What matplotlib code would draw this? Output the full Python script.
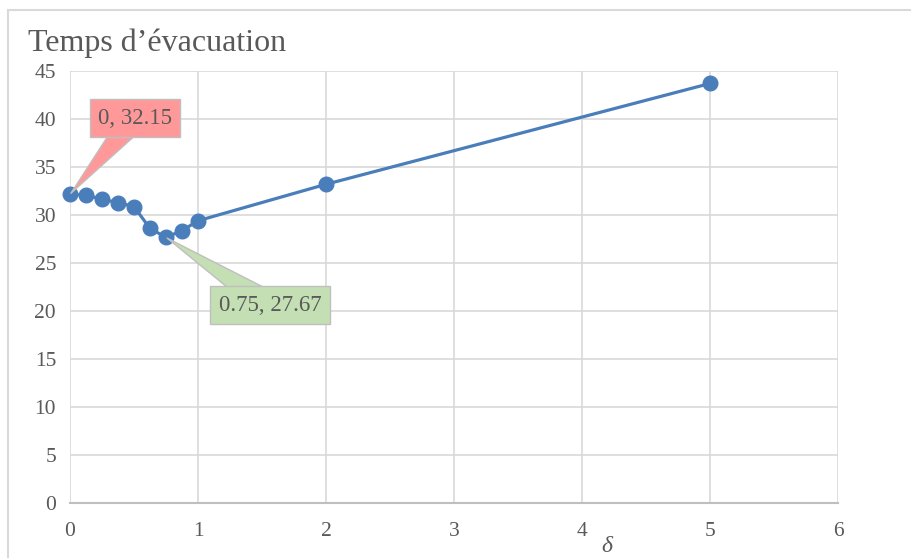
import matplotlib.pyplot as plt
from matplotlib.patches import Rectangle

# data
delta = [0, 0.125, 0.25, 0.375, 0.5, 0.625, 0.75, 0.875, 1, 2, 5]
temps = [32.15, 32.08, 31.63, 31.3, 30.87, 28.6, 27.67, 28.37, 29.4, 33.2, 43.7]
x_ticks = [0, 1, 2, 3, 4, 5, 6]
y_ticks = [0, 5, 10, 15, 20, 25, 30, 35, 40, 45]

BLUE = "#4a7ebb"
GRID = "#d9d9d9"
TEXT = "#595959"


def callout(ax, i, xytext, face):
    # wedge starts at the box centre, the box drawn over it hides the base
    ax.annotate(f"{delta[i]:g}, {temps[i]:.2f}",
                xy=(delta[i], temps[i]), xytext=xytext,
                ha="center", va="center", fontsize=16.5, color=TEXT,
                bbox=dict(boxstyle="square,pad=0.36", fc=face, ec="#bfbfbf"),
                arrowprops=dict(arrowstyle="wedge,tail_width=1.15", fc=face,
                                ec="#bfbfbf", patchA=None, shrinkA=0, shrinkB=1),
                zorder=4)


def main():
    plt.rcParams["font.family"] = ["Liberation Serif", "DejaVu Serif"]

    fig = plt.figure(figsize=(9.12, 5.58), dpi=100)
    ax = fig.add_axes([70 / 912, 1 - 503 / 558, 768 / 912, 432 / 558])

    # outer chart border (only top and left visible in the crop)
    fig.patches.append(Rectangle((8 / 912, -0.1), 1.2, 1 - 10 / 558 + 0.1,
                                 transform=fig.transFigure, fill=False,
                                 edgecolor=GRID, linewidth=1.5))

    ax.plot(delta, temps, color=BLUE, linewidth=2.3, marker="o",
            markersize=10.5, zorder=3, clip_on=False)

    ax.set_xlim(0, 6)
    ax.set_ylim(0, 45)
    ax.set_xticks(x_ticks)
    ax.set_yticks(y_ticks)
    ax.grid(True, color=GRID, linewidth=1.2)
    ax.set_axisbelow(True)
    for side in ["top", "right", "left"]:
        ax.spines[side].set_visible(False)
    ax.spines["bottom"].set_color("#bfbfbf")
    ax.spines["bottom"].set_linewidth(1.5)
    ax.tick_params(length=0, labelsize=15.5, colors=TEXT)
    ax.tick_params(axis="x", pad=14)
    ax.tick_params(axis="y", pad=10)

    callout(ax, 0, (0.508, 40.1), "#ff9999")
    callout(ax, 6, (1.5625, 20.6), "#c4dfb3")

    fig.text(28 / 912, 1 - 51 / 558, "Temps d\u2019\u00e9vacuation", fontsize=23,
             color=TEXT, va="baseline")
    fig.text(607 / 912, 1 - 557 / 558, "\u03b4", fontsize=17, color=TEXT,
             ha="center", va="bottom", style="italic")

    fig.savefig("out.png", dpi=100)


if __name__ == "__main__":
    main()
